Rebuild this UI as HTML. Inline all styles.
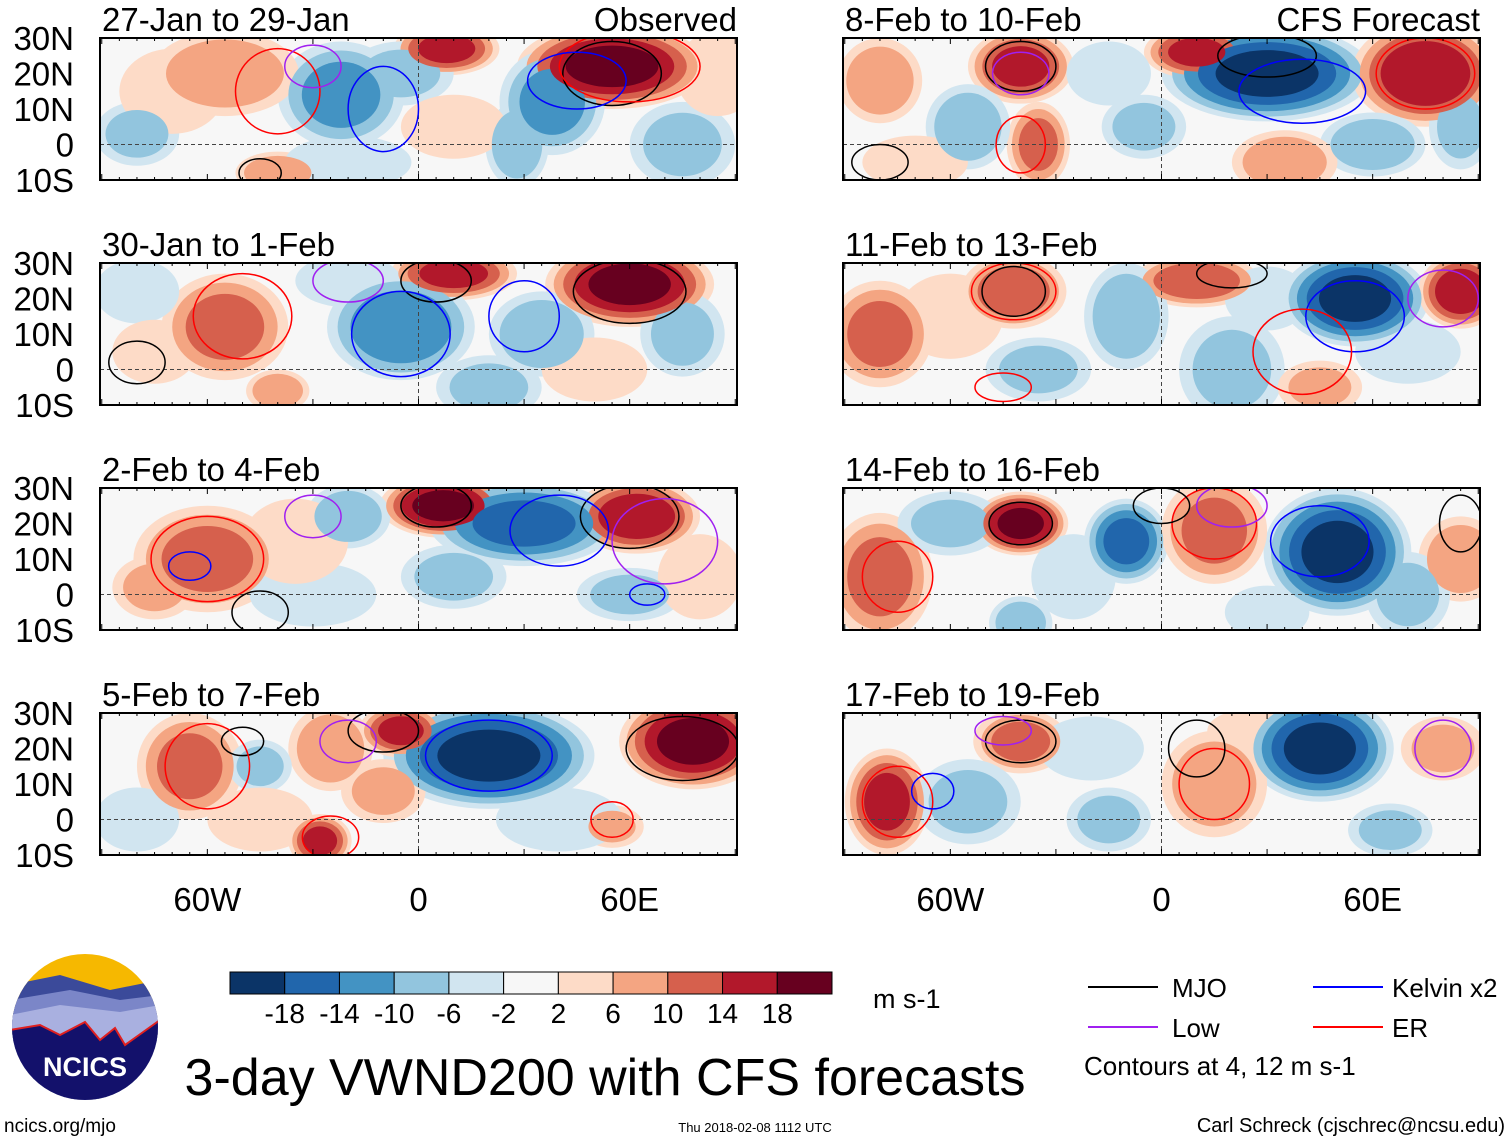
<!DOCTYPE html>
<html><head><meta charset="utf-8"><style>
body{margin:0;background:#fff;}
svg{display:block;font-family:"Liberation Sans",sans-serif;}
</style></head><body>
<svg id="root" width="1510" height="1142" viewBox="0 0 1510 1142">
<defs id="defs"></defs>
<g id="panels"></g>
<g id="colorbar"></g>
<g>
<clipPath id="logoclip"><circle cx="85" cy="1027" r="73"/></clipPath>
<g clip-path="url(#logoclip)">
<rect x="10" y="950" width="150" height="160" fill="#f6b800"/>
<path d="M10 985 L60 975 L110 990 L160 980 L160 1110 L10 1110Z" fill="#3b4a9a"/>
<path d="M10 1000 L70 990 L120 1000 L160 995 L160 1110 L10 1110Z" fill="#7b86c8"/>
<path d="M10 1015 L60 1005 L120 1012 L160 1005 L160 1110 L10 1110Z" fill="#a9b0e0"/>
<path d="M10 1030 L40 1025 L60 1035 L85 1022 L100 1040 L115 1028 L125 1045 L160 1020 L160 1110 L10 1110Z" fill="#13116b" stroke="#e02020" stroke-width="2"/>
</g>
<text x="85" y="1076" text-anchor="middle" font-size="27" font-weight="bold" fill="#fff">NCICS</text>
</g>
<text x="4" y="1132" font-size="19">ncics.org/mjo</text>
<text x="605" y="1095" text-anchor="middle" font-size="52">3-day VWND200 with CFS forecasts</text>
<text x="755" y="1132" text-anchor="middle" font-size="13">Thu 2018-02-08 1112 UTC</text>
<text x="1505" y="1132" text-anchor="end" font-size="20">Carl Schreck (cjschrec@ncsu.edu)</text>
<text x="873" y="1008" font-size="27">m s-1</text>
<g>
<line x1="1088" y1="987" x2="1158" y2="987" stroke="#000" stroke-width="2"/><text x="1172" y="997" font-size="26">MJO</text>
<line x1="1088" y1="1027" x2="1158" y2="1027" stroke="#a020f0" stroke-width="2"/><text x="1172" y="1037" font-size="26">Low</text>
<line x1="1313" y1="987" x2="1383" y2="987" stroke="#0000ff" stroke-width="2"/><text x="1392" y="997" font-size="26">Kelvin x2</text>
<line x1="1313" y1="1027" x2="1383" y2="1027" stroke="#ff0000" stroke-width="2"/><text x="1392" y="1037" font-size="26">ER</text>
<text x="1084" y="1075" font-size="26">Contours at 4, 12 m s-1</text>
</g>
</svg>
<script>
const NS="http://www.w3.org/2000/svg";
const colors=["#0b3467","#2166ac","#4393c3","#92c5de","#d1e5f0","#f7f7f7","#fddbc7","#f4a582","#d6604d","#b2182b","#67001f"];
const cbLabels=["-18","-14","-10","-6","-2","2","6","10","14","18"];
const levels=[2,6,10,14,18];
const titles=["27-Jan to 29-Jan","30-Jan to 1-Feb","2-Feb to 4-Feb","5-Feb to 7-Feb","8-Feb to 10-Feb","11-Feb to 13-Feb","14-Feb to 16-Feb","17-Feb to 19-Feb"];
const latTicks=["30N","20N","10N","0","10S"];
const latVals=[30,20,10,0,-10];
const lonTicks=["60W","0","60E"];
const lonVals=[-60,0,60];
// blobs: [lon, lat, value, lonRadius, latRadius]
const blobs0=[[55,22,18,18,8],[8,27,14,10,5],[38,12,-10,10,10],[-22,14,-10,12,10],[-55,20,8,14,8],[-80,3,-6,8,6],[28,0,-8,6,8],[-40,-8,8,8,4],[75,0,-6,10,8],[-5,20,-6,10,6],[-70,15,4,10,8],[-20,-5,-4,12,5],[10,5,4,10,6],[85,20,3,8,8]];
const blobs1=[[60,24,18,16,8],[10,27,14,12,5],[-5,12,-12,14,10],[-55,12,10,12,10],[35,10,-8,10,8],[-40,-6,8,6,4],[75,10,-6,8,8],[-80,22,-4,8,6],[20,-5,-6,10,6],[-20,25,-4,10,5],[50,0,4,10,6],[-75,5,4,8,6]];
const blobs2=[[7,25,18,12,6],[62,22,16,12,7],[30,20,-14,18,8],[-60,10,10,14,10],[-20,22,-8,8,6],[60,0,-6,10,5],[-75,2,6,8,6],[-30,0,-4,12,6],[10,5,-6,10,6],[-35,15,4,10,8],[80,5,4,8,8]];
const blobs3=[[78,22,18,14,9],[20,18,-18,20,10],[-65,15,10,10,10],[-25,20,8,8,8],[-28,-6,14,6,5],[-45,15,-6,6,5],[55,-2,6,6,4],[-5,25,14,8,5],[-10,8,6,8,6],[-45,0,4,10,6],[40,0,-4,12,6],[-80,0,-4,8,6]];
const blobs4=[[-40,22,14,10,7],[30,20,-18,20,9],[75,20,16,14,10],[-35,0,10,6,8],[-5,5,-6,8,6],[-55,5,-8,8,8],[-80,18,8,8,8],[60,0,-8,10,6],[10,26,14,10,5],[35,-5,8,10,6],[-70,-5,4,10,5],[-15,20,-4,8,6],[85,5,-6,6,8]];
const blobs5=[[-42,22,12,10,7],[55,20,-18,14,9],[85,22,16,8,7],[10,25,12,12,5],[-80,10,10,10,10],[20,0,-6,10,10],[-10,15,-8,8,10],[-35,0,-6,10,6],[45,-5,6,8,5],[-60,15,3,10,8],[70,5,-4,10,6],[30,20,-4,8,6]];
const blobs6=[[-40,20,18,9,6],[50,12,-18,14,12],[-10,15,-14,8,8],[15,18,10,10,10],[-80,5,10,10,12],[-40,-8,-8,6,5],[85,10,8,8,8],[70,0,-6,8,8],[-60,20,-6,10,6],[-25,5,-4,8,8],[30,-5,-4,8,5]];
const blobs7=[[-78,5,14,8,10],[-40,22,10,9,6],[45,20,-18,14,10],[15,10,8,10,10],[80,20,6,8,6],[-15,0,-6,8,6],[-55,5,-6,10,8],[65,-3,-6,8,5],[-20,20,-4,10,6],[25,25,4,8,4]];
const allBlobs=[blobs0,blobs1,blobs2,blobs3,blobs4,blobs5,blobs6,blobs7];
// contours: [lon, lat, lonRadius, latRadius, type]
const cont0=[[55,20,14,9,"mjo"],[-45,-8,6,4,"mjo"],[60,22,20,10,"er"],[-40,15,12,12,"er"],[-10,10,10,12,"kelvin"],[45,18,14,8,"kelvin"],[-30,22,8,6,"low"]];
const cont1=[[60,22,16,9,"mjo"],[-80,2,8,6,"mjo"],[-50,15,14,12,"er"],[5,25,10,6,"mjo"],[-5,10,14,12,"kelvin"],[30,15,10,10,"kelvin"],[-20,25,10,6,"low"]];
const cont2=[[60,22,14,9,"mjo"],[5,25,10,6,"mjo"],[-45,-5,8,6,"mjo"],[-60,10,16,12,"er"],[-65,8,6,4,"kelvin"],[40,18,14,10,"kelvin"],[70,15,15,12,"low"],[-30,22,8,6,"low"],[65,0,5,3,"kelvin"]];
const cont3=[[75,20,16,9,"mjo"],[-50,22,6,4,"mjo"],[-25,-5,8,6,"er"],[-10,25,10,6,"mjo"],[-60,15,12,12,"er"],[55,0,6,5,"er"],[20,18,18,10,"kelvin"],[-20,22,8,6,"low"]];
const cont4=[[-40,22,10,7,"mjo"],[30,25,14,6,"mjo"],[75,20,14,10,"er"],[-40,0,7,8,"er"],[40,15,18,9,"kelvin"],[-40,20,8,6,"low"],[-80,-5,8,5,"mjo"]];
const cont5=[[-42,22,9,7,"mjo"],[-42,22,12,8,"er"],[20,27,10,4,"mjo"],[55,15,14,10,"kelvin"],[40,5,14,12,"er"],[-45,-5,8,4,"er"],[80,20,10,8,"low"]];
const cont6=[[-40,20,9,6,"mjo"],[85,20,6,8,"mjo"],[15,20,12,10,"er"],[-75,5,10,10,"er"],[45,15,14,10,"kelvin"],[20,25,10,6,"low"],[0,25,8,5,"mjo"]];
const cont7=[[-40,22,10,6,"mjo"],[-75,5,10,10,"er"],[-65,8,6,5,"kelvin"],[15,10,10,10,"er"],[10,20,8,8,"mjo"],[80,20,8,8,"low"],[-45,25,8,4,"low"]];
const allConts=[cont0,cont1,cont2,cont3,cont4,cont5,cont6,cont7];
const typeColor={mjo:"#000000",low:"#a020f0",kelvin:"#0000ff",er:"#ff0000"};

const panelsG=document.getElementById("panels");
const defs=document.getElementById("defs");
function mk(tag,attrs,parent){const e=document.createElementNS(NS,tag);for(const k in attrs)e.setAttribute(k,attrs[k]);if(parent)parent.appendChild(e);return e;}

const W=637,H=142,tops=[38,263,488,713],lefts=[100,843],SC=1.5;
for(let p=0;p<8;p++){
  const col=Math.floor(p/4),row=p%4;
  const x0=lefts[col],y0=tops[row];
  const xs=lon=>x0+(lon+90.5)/181*W;
  const ys=lat=>y0+(30-lat)/40*H;
  const g=mk("g",{},panelsG);
  
  
  const cp=mk("clipPath",{id:"clip"+p},defs);
  mk("rect",{x:x0,y:y0,width:W,height:H},cp);
  const inner=mk("g",{"clip-path":"url(#clip"+p+")"},g);
  mk("rect",{x:x0,y:y0,width:W,height:H,fill:colors[5]},inner);
  const bl=allBlobs[p];
  for(let li=0;li<levels.length;li++){
    const L=levels[li];
    bl.forEach(b=>{
      const v=Math.abs(b[2]);
      if(L>v)return;
      const f=Math.sqrt(1-(L-2)/(v+3));
      const ci=b[2]>0?6+li:4-li;
      const e=mk("ellipse",{cx:xs(b[0]),cy:ys(b[1]),rx:SC*b[3]*f*W/181,ry:SC*b[4]*f*H/40,fill:colors[ci]},inner);
      
      
    });
  }
  mk("line",{x1:x0,x2:x0+W,y1:ys(0),y2:ys(0),stroke:"#444","stroke-dasharray":"4,3","stroke-width":1},inner);
  mk("line",{x1:xs(0),x2:xs(0),y1:y0,y2:y0+H,stroke:"#444","stroke-dasharray":"4,3","stroke-width":1},inner);
  allConts[p].forEach(c=>{
    const e=mk("ellipse",{cx:xs(c[0]),cy:ys(c[1]),rx:c[2]*W/181,ry:c[3]*H/40,fill:"none",stroke:typeColor[c[4]],"stroke-width":1.5},inner);
    
    
  });
  mk("rect",{x:x0,y:y0,width:W,height:H,fill:"none",stroke:"#000","stroke-width":2},g);
  for(let lon=-90;lon<=90;lon+=5){mk("line",{x1:xs(lon),x2:xs(lon),y1:y0,y2:y0+(lon%30==0?6:3),stroke:"#000"},g);mk("line",{x1:xs(lon),x2:xs(lon),y1:y0+H,y2:y0+H-(lon%30==0?6:3),stroke:"#000"},g);}
  const t=mk("text",{x:x0+2,y:y0-7,"font-size":33},g);t.textContent=titles[p];
  
  
  if(p==0){const o=mk("text",{x:x0+W,y:y0-7,"font-size":33,"text-anchor":"end"},g);o.textContent="Observed";
    
    }
  if(p==4){const o=mk("text",{x:x0+W,y:y0-7,"font-size":33,"text-anchor":"end"},g);o.textContent="CFS Forecast";
    
    }
  if(col==0){latVals.forEach((lv,i)=>{const tl=mk("text",{x:74,y:ys(lv)+12,"font-size":33,"text-anchor":"end"},g);tl.textContent=latTicks[i];
    
    });}
  if(row==3){lonVals.forEach((lv,i)=>{const tl=mk("text",{x:xs(lv),y:911,"font-size":33,"text-anchor":"middle"},g);tl.textContent=lonTicks[i];
    
    });}
}
const cb=document.getElementById("colorbar");
const bw=602/11;
colors.forEach((c,i)=>{const r=mk("rect",{x:230+i*bw,y:972,width:bw,height:22,fill:c,stroke:"#000","stroke-width":1},cb);
  
  });
cbLabels.forEach((l,i)=>{const t=mk("text",{x:230+(i+1)*bw,y:1023,"font-size":28,"text-anchor":"middle"},cb);t.textContent=l;
  
  });
</script>
</body></html>
